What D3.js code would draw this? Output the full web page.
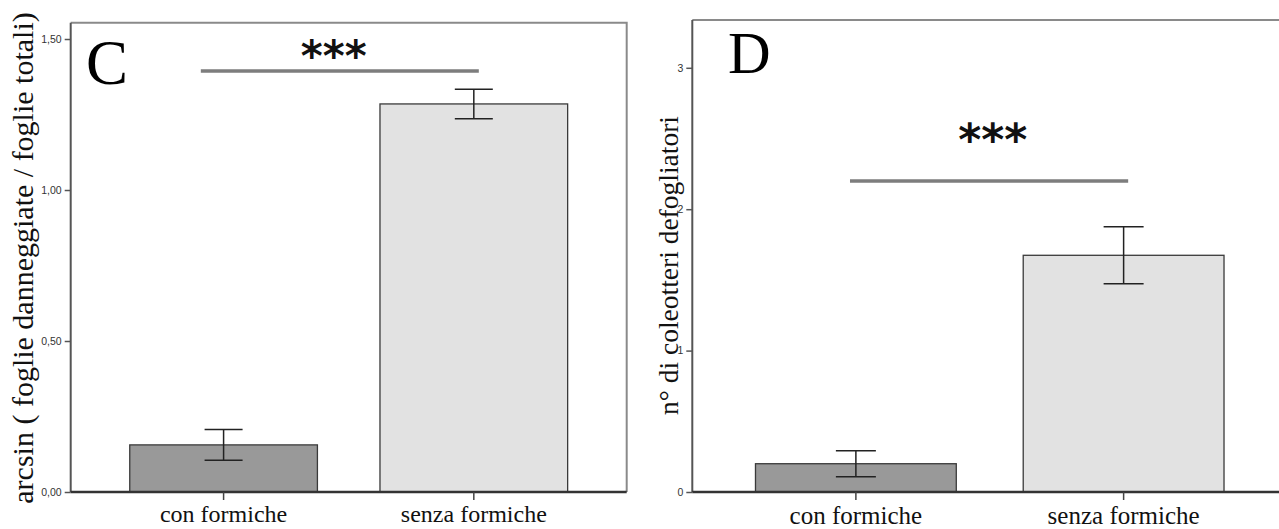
<!DOCTYPE html>
<html>
<head>
<meta charset="utf-8">
<script src="https://cdn.jsdelivr.net/npm/d3@7"></script>
<style>
  html, body { margin: 0; padding: 0; background: #fff; }
  svg { display: block; }
  .serif { font-family: "Liberation Serif", "Times New Roman", serif; }
  .sans { font-family: "Liberation Sans", Arial, sans-serif; }
  .stars { font-family: "DejaVu Sans", sans-serif; font-weight: bold; }
</style>
</head>
<body>
<svg id="chart" width="1279" height="529"></svg>
<script>
// ---- data ----
const categories = ["con formiche", "senza formiche"];
const damageMeans = [0.156, 1.285];
const damageErrors = [0.051, 0.049];
const damageTicks = [0, 0.5, 1.0, 1.5];
const beetleMeans = [0.20, 1.674];
const beetleErrors = [0.092, 0.202];
const beetleTicks = [0, 1, 2, 3];
const panelLetters = ["C", "D"];
const yTitles = ["arcsin ( foglie danneggiate / foglie totali)", "n° di coleotteri defogliatori"];
const significance = ["***", "***"];

const svg = d3.select("#chart");

const barFills = ["#999999", "#e2e2e2"];

function panel(cfg) {
  const g = svg.append("g");
  const x = d3.scaleBand().domain(categories)
    .range([cfg.left, cfg.right]).paddingInner(0.25).paddingOuter(0.236).align(0.5);
  const y = d3.scaleLinear().domain([0, cfg.yMax]).range([cfg.bottom, cfg.top]);
  const cx = c => x(c) + x.bandwidth() / 2;

  // frame (top + right)
  g.append("path")
    .attr("d", `M${cfg.left},${cfg.top}H${cfg.right}V${cfg.bottom}`)
    .attr("fill", "none").attr("stroke", "#8a8a8a").attr("stroke-width", 2);

  // bars
  g.selectAll("rect.bar").data(categories).join("rect")
    .attr("class", "bar")
    .attr("x", d => x(d)).attr("width", x.bandwidth())
    .attr("y", (d, i) => y(cfg.means[i]))
    .attr("height", (d, i) => y(0) - y(cfg.means[i]))
    .attr("fill", (d, i) => barFills[i])
    .attr("stroke", "#3a3a3a").attr("stroke-width", 1.3);

  // error bars
  const capHalf = cfg.cap;
  categories.forEach((c, i) => {
    const lo = y(cfg.means[i] - cfg.errs[i]), hi = y(cfg.means[i] + cfg.errs[i]);
    const eg = g.append("g").attr("stroke", "#222").attr("stroke-width", 1.5).attr("fill", "none");
    eg.append("line").attr("x1", cx(c)).attr("x2", cx(c)).attr("y1", lo).attr("y2", hi);
    eg.append("line").attr("x1", cx(c) - capHalf).attr("x2", cx(c) + capHalf).attr("y1", lo).attr("y2", lo);
    eg.append("line").attr("x1", cx(c) - capHalf).attr("x2", cx(c) + capHalf).attr("y1", hi).attr("y2", hi);
  });

  // y title (drawn before axis so tick labels stay on top)
  g.append("text")
    .attr("class", "serif")
    .attr("transform", `translate(${cfg.titleX},${cfg.titleY}) rotate(-90)`)
    .attr("text-anchor", "middle")
    .style("font-size", cfg.titleFont + "px").attr("fill", "#111")
    .text(cfg.title);

  // y axis
  const yAxis = d3.axisLeft(y).tickValues(cfg.ticks).tickSize(6).tickPadding(3).tickFormat(cfg.fmt);
  const ya = g.append("g").attr("transform", `translate(${cfg.left},0)`).call(yAxis);
  ya.attr("font-family", null).attr("font-size", null);
  ya.select(".domain").attr("stroke", "#555").attr("stroke-width", 2)
    .attr("d", `M0,${cfg.bottom}V${cfg.top}`);
  ya.selectAll(".tick line").attr("stroke", "#555").attr("stroke-width", 1.5);
  ya.selectAll(".tick text").attr("class", "sans")
    .style("font-size", "10.5px").attr("fill", "#333");

  // x axis
  const xAxis = d3.axisBottom(x).tickSize(8).tickPadding(10);
  const xa = g.append("g").attr("transform", `translate(0,${cfg.bottom})`).call(xAxis);
  xa.attr("font-family", null).attr("font-size", null);
  xa.select(".domain").attr("stroke", "#333").attr("stroke-width", 2.5)
    .attr("d", `M${cfg.left},0H${cfg.right}`);
  xa.selectAll(".tick line").attr("stroke", "#444").attr("stroke-width", 1.5);
  xa.selectAll(".tick text").attr("class", "serif")
    .style("font-size", cfg.xFont + "px").attr("fill", "#111")
    .attr("dy", null).attr("y", cfg.xLabelBaseline - cfg.bottom);

  // panel letter
  g.append("text")
    .attr("class", "serif")
    .attr("x", cfg.letterX).attr("y", cfg.letterY)
    .style("font-size", cfg.letterFont + "px").attr("fill", "#000")
    .text(cfg.letter);

  // significance line and stars
  const c0 = cx(categories[0]), c1 = cx(categories[1]);
  const at = t => c0 + t * (c1 - c0);
  g.append("line")
    .attr("x1", at(cfg.sigFrom)).attr("x2", at(cfg.sigTo))
    .attr("y1", y(cfg.sigY)).attr("y2", y(cfg.sigY))
    .attr("stroke", "#7d7d7d").attr("stroke-width", 3.5);
  g.append("text")
    .attr("class", "stars")
    .attr("x", at(cfg.starT)).attr("y", y(cfg.starY))
    .attr("text-anchor", "middle")
    .style("font-size", cfg.starFont + "px").attr("fill", "#111")
    .text(cfg.stars);
}

const commaFmt = d => d3.format(".2f")(d).replace(".", ",");

panel({
  left: 70.7, right: 626.7, top: 22.7, bottom: 492, yMax: 1.554,
  means: damageMeans, errs: damageErrors, ticks: damageTicks, fmt: commaFmt, cap: 19,
  xFont: 24, xLabelBaseline: 521.5,
  title: yTitles[0], titleX: 33, titleY: 258, titleFont: 30,
  letter: panelLetters[0], letterX: 86, letterY: 83.5, letterFont: 63,
  sigFrom: -0.091, sigTo: 1.02, sigY: 1.394, starT: 0.44, starY: 1.394, starFont: 42,
  stars: significance[0]
});

panel({
  left: 692.3, right: 1287.2, top: 20, bottom: 492, yMax: 3.338,
  means: beetleMeans, errs: beetleErrors, ticks: beetleTicks, fmt: d3.format("d"), cap: 20,
  xFont: 25, xLabelBaseline: 523.5,
  title: yTitles[1], titleX: 677.5, titleY: 265.5, titleFont: 27.5,
  letter: panelLetters[1], letterX: 728, letterY: 72.7, letterFont: 59,
  sigFrom: -0.022, sigTo: 1.017, sigY: 2.2, starT: 0.511, starY: 2.383, starFont: 44,
  stars: significance[1]
});
</script>
</body>
</html>
